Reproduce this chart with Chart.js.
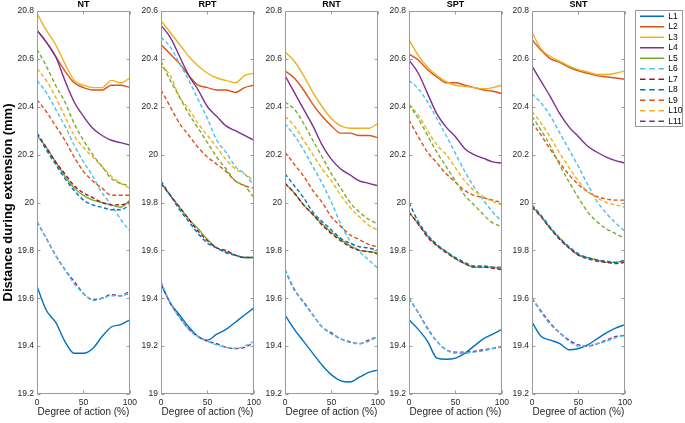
<!DOCTYPE html>
<html><head><meta charset="utf-8">
<script src="https://cdn.jsdelivr.net/npm/chart.js@4.4.1/dist/chart.umd.min.js"></script>
<style>
html,body{margin:0;padding:0;background:#fff;}
#wrap{position:relative;width:685px;height:423px;overflow:hidden;background:#fff;}
canvas{position:absolute;}
#legbox{position:absolute;left:635px;top:10px;width:48px;height:117px;border:1px solid #999;box-sizing:border-box;}
</style></head><body>
<div id="wrap">
<div id="legbox"></div>
<canvas id="c0"></canvas><canvas id="c1"></canvas><canvas id="c2"></canvas><canvas id="c3"></canvas><canvas id="c4"></canvas>
<canvas id="leg"></canvas>
</div>
<script>
// ---------- data ----------
const X_PCT = [0,10,20,30,40,50,60,70,80,90,100];
const PANEL_TITLES = ['NT','RPT','RNT','SPT','SNT'];
const Y_MIN = [19.2,19.0,19.2,19.2,19.2];
const Y_MAX = [20.8,20.6,20.8,20.8,20.8];
const LEGEND_LABELS = ['L1','L2','L3','L4','L5','L6','L7','L8','L9','L10','L11'];

// NT
const NT_L1  = [19.65,19.55,19.50,19.42,19.37,19.37,19.39,19.44,19.48,19.49,19.51];
const NT_L2  = [20.72,20.67,20.61,20.55,20.50,20.48,20.47,20.47,20.49,20.49,20.48];
const NT_L3  = [20.79,20.72,20.66,20.58,20.51,20.49,20.48,20.48,20.51,20.50,20.52];
const NT_L4  = [20.72,20.67,20.61,20.51,20.42,20.36,20.31,20.28,20.26,20.25,20.24];
const NT_L5  = [20.28,20.23,20.17,20.11,20.06,20.03,20.01,20.00,19.99,19.98,20.01];
const NT_L6  = [20.51,20.46,20.39,20.32,20.24,20.17,20.11,20.04,19.99,19.93,19.88];
const NT_L7  = [20.29,20.23,20.17,20.12,20.07,20.04,20.02,20.00,19.99,19.99,20.00];
const NT_L8  = [20.29,20.22,20.16,20.10,20.05,20.01,19.99,19.98,19.97,19.97,19.99];
const NT_L9  = [20.43,20.38,20.32,20.26,20.19,20.13,20.09,20.06,20.03,20.03,20.03];
const NT_L10 = [20.56,20.51,20.44,20.36,20.28,20.23,20.19,20.15,20.11,20.08,20.06];
const NT_L11 = [19.92,19.85,19.78,19.72,19.67,19.62,19.595,19.60,19.615,19.61,19.63];
const NT_L12 = [20.64,20.57,20.49,20.42,20.33,20.26,20.20,20.15,20.10,20.08,20.07];
const NT_L13 = [19.92,19.85,19.78,19.72,19.66,19.62,19.59,19.60,19.61,19.61,19.62];
// RPT
const RPT_L1  = [19.46,19.38,19.33,19.28,19.24,19.225,19.25,19.27,19.30,19.33,19.36];
const RPT_L2  = [20.46,20.42,20.38,20.33,20.29,20.28,20.27,20.27,20.26,20.28,20.29];
const RPT_L3  = [20.56,20.51,20.46,20.41,20.37,20.34,20.32,20.31,20.30,20.33,20.34];
const RPT_L4  = [20.54,20.49,20.41,20.33,20.27,20.20,20.16,20.12,20.10,20.08,20.06];
const RPT_L5  = [19.88,19.83,19.78,19.73,19.69,19.645,19.61,19.595,19.58,19.57,19.57];
const RPT_L6  = [20.49,20.45,20.38,20.31,20.23,20.15,20.06,20.01,19.95,19.92,19.87];
const RPT_L7  = [19.88,19.83,19.78,19.73,19.68,19.64,19.61,19.60,19.58,19.57,19.57];
const RPT_L8  = [19.89,19.83,19.77,19.72,19.67,19.63,19.61,19.59,19.58,19.57,19.57];
const RPT_L9  = [20.27,20.20,20.13,20.08,20.03,19.99,19.96,19.93,19.89,19.87,19.86];
const RPT_L10 = [20.37,20.33,20.24,20.19,20.13,20.08,20.03,19.98,19.94,19.92,19.89];
const RPT_L11 = [19.46,19.38,19.32,19.27,19.24,19.22,19.21,19.195,19.19,19.195,19.215];
const RPT_L12 = [20.39,20.31,20.24,20.17,20.11,20.05,19.99,19.94,19.89,19.87,19.82];
const RPT_L13 = [19.47,19.38,19.32,19.27,19.24,19.22,19.205,19.195,19.19,19.20,19.22];
// RNT
const RNT_L1  = [19.53,19.47,19.42,19.37,19.32,19.28,19.255,19.25,19.27,19.29,19.30];
const RNT_L2  = [20.55,20.52,20.47,20.41,20.36,20.32,20.29,20.29,20.28,20.28,20.27];
const RNT_L3  = [20.63,20.59,20.53,20.46,20.40,20.35,20.32,20.31,20.31,20.31,20.33];
const RNT_L4  = [20.53,20.46,20.39,20.32,20.24,20.18,20.14,20.115,20.09,20.08,20.07];
const RNT_L5  = [20.08,20.04,19.99,19.95,19.91,19.875,19.845,19.82,19.80,19.795,19.79];
const RNT_L6  = [20.33,20.28,20.22,20.15,20.08,20.00,19.91,19.84,19.795,19.76,19.725];
const RNT_L7  = [20.08,20.04,19.99,19.95,19.905,19.87,19.84,19.815,19.80,19.795,19.785];
const RNT_L8  = [20.12,20.07,20.02,19.96,19.92,19.885,19.85,19.83,19.815,19.81,19.80];
const RNT_L9  = [20.21,20.16,20.11,20.05,20.00,19.94,19.90,19.865,19.845,19.825,19.815];
const RNT_L10 = [20.36,20.32,20.26,20.20,20.14,20.09,20.03,19.98,19.94,19.905,19.885];
const RNT_L11 = [19.72,19.635,19.585,19.53,19.48,19.455,19.43,19.418,19.41,19.425,19.44];
const RNT_L12 = [20.42,20.39,20.33,20.26,20.19,20.12,20.06,20.00,19.96,19.93,19.91];
const RNT_L13 = [19.72,19.64,19.58,19.53,19.48,19.45,19.43,19.415,19.41,19.42,19.44];
// SPT
const SPT_L1  = [19.51,19.47,19.42,19.35,19.345,19.35,19.37,19.40,19.43,19.45,19.47];
const SPT_L2  = [20.62,20.595,20.555,20.525,20.50,20.50,20.49,20.48,20.47,20.465,20.455];
const SPT_L3  = [20.68,20.615,20.565,20.53,20.505,20.49,20.485,20.48,20.475,20.48,20.49];
const SPT_L4  = [20.595,20.54,20.455,20.37,20.315,20.275,20.225,20.20,20.185,20.17,20.165];
const SPT_L5  = [19.96,19.91,19.86,19.82,19.795,19.765,19.745,19.73,19.73,19.73,19.72];
const SPT_L6  = [20.51,20.475,20.42,20.35,20.28,20.205,20.13,20.065,20.01,19.96,19.92];
const SPT_L7  = [19.96,19.91,19.855,19.82,19.79,19.765,19.745,19.73,19.73,19.725,19.72];
const SPT_L8  = [20.00,19.92,19.865,19.825,19.795,19.77,19.75,19.735,19.735,19.73,19.73];
const SPT_L9  = [20.345,20.275,20.21,20.165,20.12,20.085,20.05,20.03,20.02,20.01,20.00];
const SPT_L10 = [20.41,20.365,20.30,20.24,20.20,20.145,20.09,20.05,20.025,20.005,19.99];
const SPT_L11 = [19.60,19.54,19.475,19.42,19.385,19.375,19.375,19.378,19.385,19.39,19.40];
const SPT_L12 = [20.41,20.35,20.28,20.21,20.15,20.09,20.03,19.99,19.95,19.915,19.90];
const SPT_L13 = [19.60,19.54,19.47,19.42,19.385,19.37,19.37,19.375,19.38,19.39,19.395];
// SNT
const SNT_L1  = [19.50,19.44,19.425,19.41,19.385,19.39,19.405,19.43,19.455,19.475,19.49];
const SNT_L2  = [20.68,20.635,20.60,20.585,20.565,20.55,20.54,20.53,20.525,20.52,20.515];
const SNT_L3  = [20.71,20.64,20.61,20.59,20.57,20.555,20.545,20.535,20.535,20.54,20.55];
const SNT_L4  = [20.57,20.505,20.44,20.37,20.315,20.275,20.235,20.21,20.19,20.175,20.165];
const SNT_L5  = [19.985,19.94,19.89,19.85,19.81,19.78,19.77,19.76,19.75,19.75,19.755];
const SNT_L6  = [20.455,20.415,20.36,20.29,20.22,20.15,20.075,20.005,19.955,19.915,19.88];
const SNT_L7  = [19.98,19.94,19.89,19.845,19.81,19.78,19.765,19.755,19.75,19.745,19.75];
const SNT_L8  = [19.99,19.945,19.895,19.85,19.815,19.785,19.77,19.76,19.755,19.75,19.76];
const SNT_L9  = [20.335,20.28,20.22,20.165,20.115,20.075,20.045,20.025,20.015,20.01,20.01];
const SNT_L10 = [20.38,20.33,20.27,20.205,20.145,20.09,20.045,20.02,20.00,19.99,19.98];
const SNT_L11 = [19.60,19.545,19.495,19.455,19.425,19.405,19.40,19.41,19.425,19.44,19.445];
const SNT_L12 = [20.36,20.30,20.235,20.155,20.085,20.02,19.96,19.92,19.89,19.87,19.85];
const SNT_L13 = [19.60,19.54,19.49,19.455,19.42,19.40,19.40,19.41,19.42,19.435,19.445];

const PANEL_SERIES = [
  [NT_L1,NT_L2,NT_L3,NT_L4,NT_L5,NT_L6,NT_L7,NT_L8,NT_L9,NT_L10,NT_L11,NT_L12,NT_L13],
  [RPT_L1,RPT_L2,RPT_L3,RPT_L4,RPT_L5,RPT_L6,RPT_L7,RPT_L8,RPT_L9,RPT_L10,RPT_L11,RPT_L12,RPT_L13],
  [RNT_L1,RNT_L2,RNT_L3,RNT_L4,RNT_L5,RNT_L6,RNT_L7,RNT_L8,RNT_L9,RNT_L10,RNT_L11,RNT_L12,RNT_L13],
  [SPT_L1,SPT_L2,SPT_L3,SPT_L4,SPT_L5,SPT_L6,SPT_L7,SPT_L8,SPT_L9,SPT_L10,SPT_L11,SPT_L12,SPT_L13],
  [SNT_L1,SNT_L2,SNT_L3,SNT_L4,SNT_L5,SNT_L6,SNT_L7,SNT_L8,SNT_L9,SNT_L10,SNT_L11,SNT_L12,SNT_L13]
];

// ---------- styles ----------
const COLORS = ['#0072BD','#D95319','#EDB120','#7E2F8E','#77AC30','#4DBEEE','#A2142F','#0072BD','#D95319','#EDB120','#7E2F8E','#77AC30','#4DBEEE'];
const DASHED = [false,false,false,false,false,true,true,true,true,true,true,true,true];
const DASH = [4,2.5];
const AXIS_COLOR = '#9a9a9a';
const TEXT_COLOR = '#262626';
const FONT = 'Liberation Sans, Arial, sans-serif';

const PLOT_LEFT = [37,161,285,409,532];
const PLOT_W = 95;
const CANVAS_H = 423;

const boxPlugin = {
  id:'boxTicks',
  afterDatasetsDraw(chart){
    const {ctx, chartArea:a, scales} = chart;
    const L = Math.round(a.left)+0.5, R = Math.round(a.right)-0.5, T = Math.round(a.top)+0.5, B = Math.round(a.bottom)-0.5;
    ctx.save();
    ctx.strokeStyle = AXIS_COLOR; ctx.lineWidth = 1; ctx.setLineDash([]);
    ctx.strokeRect(L, T, R-L, B-T);
    ctx.beginPath();
    scales.y.ticks.forEach(t=>{
      const py = Math.round(scales.y.getPixelForValue(t.value))+0.5;
      ctx.moveTo(L, py); ctx.lineTo(L+3, py);
      ctx.moveTo(R, py); ctx.lineTo(R-3, py);
    });
    scales.x.ticks.forEach(t=>{
      const px = Math.round(scales.x.getPixelForValue(t.value))+0.5;
      ctx.moveTo(px, B); ctx.lineTo(px, B-3);
      ctx.moveTo(px, T); ctx.lineTo(px, T+3);
    });
    ctx.stroke();
    ctx.restore();
  }
};

Chart.defaults.font.family = FONT;
Chart.defaults.color = TEXT_COLOR;

PANEL_TITLES.forEach((title, p) => {
  const axisW = p === 0 ? 37 : 30;
  const padR = 9;
  const cw = axisW + PLOT_W + padR;
  const cv = document.getElementById('c'+p);
  cv.width = cw; cv.height = CANVAS_H;
  cv.style.width = cw+'px'; cv.style.height = CANVAS_H+'px';
  cv.style.left = (PLOT_LEFT[p]-axisW)+'px'; cv.style.top = '0px';
  const datasets = PANEL_SERIES[p].map((vals, i) => ({
    label: 'L'+(i+1),
    data: vals.map((v, j) => ({x: X_PCT[j], y: v})),
    borderColor: COLORS[i],
    backgroundColor: COLORS[i],
    borderWidth: 1.4,
    borderDash: DASHED[i] ? DASH : [],
    pointRadius: 0,
    fill: false,
    cubicInterpolationMode: 'monotone',
    order: 20 - i
  }));
  new Chart(cv, {
    type: 'line',
    data: {datasets},
    options: {
      responsive: false, animation: false, devicePixelRatio: 1,
      layout: {padding: {left: 0, right: padR, top: 0, bottom: 0}},
      plugins: {
        legend: {display: false},
        tooltip: {enabled: false},
        title: {display: true, text: title, fullSize: false, color: '#000',
                font: {size: 9, weight: 'bold', lineHeight: 1}, padding: {top: 0, bottom: 2}}
      },
      scales: {
        x: {
          type: 'linear', min: 0, max: 100,
          grid: {display: false, drawTicks: false}, border: {display: false},
          ticks: {stepSize: 50, maxRotation: 0, autoSkip: false, padding: 4, color: TEXT_COLOR, font: {size: 8.5}},
          title: {display: true, text: 'Degree of action (%)', color: TEXT_COLOR, font: {size: 10}, padding: {top: 0, bottom: 5}},
          afterFit: s => { s.height = 29; }
        },
        y: {
          type: 'linear', min: Y_MIN[p], max: Y_MAX[p],
          grid: {display: false, drawTicks: false}, border: {display: false},
          ticks: {stepSize: 0.2, padding: 3, color: TEXT_COLOR, font: {size: 8.5},
                  callback: v => String(Number(Number(v).toFixed(1)))},
          title: {display: p === 0, text: 'Distance during extension (mm)', color: '#000',
                  font: {size: 13, weight: 'bold'}, padding: {top: 1, bottom: 0}},
          afterFit: s => { s.width = axisW; }
        }
      }
    },
    plugins: [boxPlugin]
  });
});

// ---------- legend ----------
const lg = document.getElementById('leg');
lg.width = 49; lg.height = 300;
lg.style.width = '49px'; lg.style.height = '300px';
lg.style.left = '636px'; lg.style.top = '10px';
new Chart(lg, {
  type: 'line',
  data: {datasets: LEGEND_LABELS.map((lab, i) => ({
    label: lab, data: [], borderColor: COLORS[i], backgroundColor: COLORS[i],
    borderWidth: 1.4, borderDash: DASHED[i] ? DASH : []
  }))},
  options: {
    responsive: false, animation: false, devicePixelRatio: 1,
    layout: {padding: {left: 2, right: 0, top: 0, bottom: 0}},
    scales: {x: {display: false}, y: {display: false}},
    plugins: {
      tooltip: {enabled: false},
      title: {display: false},
      legend: {
        display: true, position: 'top', align: 'start',
        labels: {
          usePointStyle: true, pointStyle: 'line', pointStyleWidth: 24,
          padding: 2, color: TEXT_COLOR, font: {size: 8.5},
          generateLabels: chart => chart.data.datasets.map((d, i) => ({
            text: d.label, strokeStyle: d.borderColor, fillStyle: d.borderColor,
            lineWidth: 1.4, pointStyle: 'line', hidden: false, datasetIndex: i,
            lineDash: d.borderDash && d.borderDash.length ? [5.5, 3.75] : []
          }))
        }
      }
    }
  }
});
</script>
</body></html>
